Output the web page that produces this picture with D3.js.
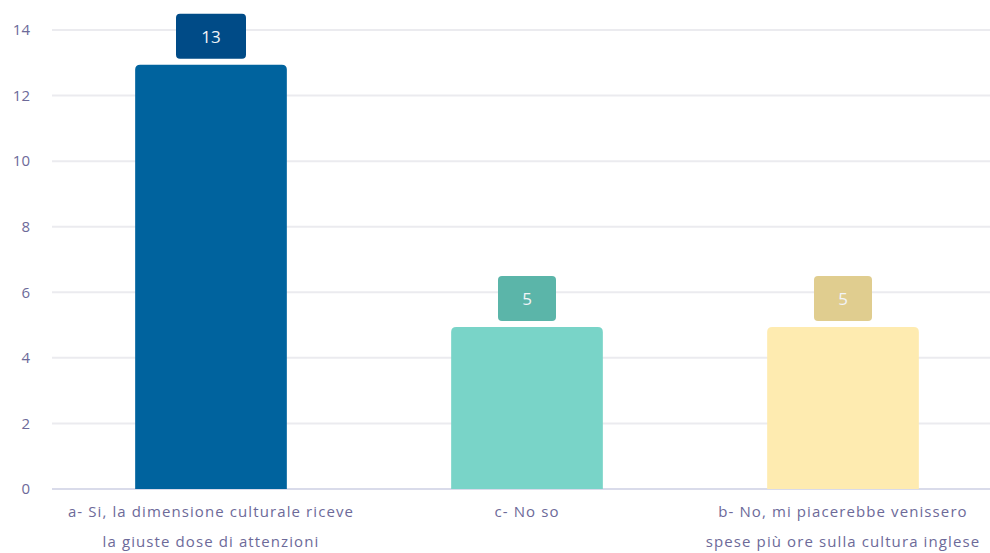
<!DOCTYPE html>
<html>
<head>
<meta charset="utf-8">
<script src="https://cdn.jsdelivr.net/npm/d3@7"></script>
<style>
  body { margin: 0; background: #fff; }
  text { font-family: "Open Sans", Lato, sans-serif; }
</style>
</head>
<body>
<div id="chart"></div>
<script>
const categories = [
  "a- Si, la dimensione culturale riceve\nla giuste dose di attenzioni",
  "c- No so",
  "b- No, mi piacerebbe venissero\nspese più ore sulla cultura inglese"
];
const values = [13, 5, 5];
const barColors = ["#00639e", "#79d4c8", "#feebb0"];
const badgeColors = ["#004b87", "#5bb5a9", "#e0cd8f"];
const yTicks = [0, 2, 4, 6, 8, 10, 12, 14];

const width = 990, height = 553;
const margin = { top: 30, right: -11, bottom: 64, left: 53 };

const svg = d3.select("#chart").append("svg")
  .attr("width", width)
  .attr("height", height);

const x = d3.scaleBand()
  .domain(categories)
  .range([margin.left, width - margin.right])
  .paddingInner(0.52)
  .paddingOuter(0.26);

const y = d3.scaleLinear()
  .domain([0, 14])
  .range([height - margin.bottom, margin.top]);

// gridlines
svg.append("g")
  .selectAll("line")
  .data(yTicks)
  .enter()
  .append("line")
  .attr("x1", margin.left - 1)
  .attr("x2", width)
  .attr("y1", d => y(d))
  .attr("y2", d => y(d))
  .attr("stroke", d => d === 0 ? "#d9dbea" : "#ebebef")
  .attr("stroke-width", 2);

// y tick labels
svg.append("g")
  .selectAll("text")
  .data(yTicks)
  .enter()
  .append("text")
  .attr("x", 30)
  .attr("y", d => y(d))
  .attr("dy", "0.35em")
  .attr("text-anchor", "end")
  .attr("fill", "#6d6a99")
  .style("font-size", "15px")
  .text(d => d);

// bars with rounded top corners
const r = 5;
svg.append("g")
  .selectAll("path")
  .data(values)
  .enter()
  .append("path")
  .attr("fill", (d, i) => barColors[i])
  .attr("d", (d, i) => {
    const x0 = x(categories[i]), w = x.bandwidth();
    const y0 = y(d) + 2, y1 = y(0);
    return `M${x0},${y1}V${y0 + r}Q${x0},${y0} ${x0 + r},${y0}H${x0 + w - r}Q${x0 + w},${y0} ${x0 + w},${y0 + r}V${y1}Z`;
  });

// value badges
const badge = svg.append("g")
  .selectAll("g")
  .data(values)
  .enter()
  .append("g")
  .attr("transform", (d, i) => `translate(${x(categories[i]) + x.bandwidth() / 2}, ${y(d) - 4})`);

badge.append("rect")
  .attr("x", d => -(String(d).length > 1 ? 35 : 29))
  .attr("y", -45)
  .attr("width", d => String(d).length > 1 ? 70 : 58)
  .attr("height", 45)
  .attr("rx", 4)
  .attr("fill", (d, i) => badgeColors[i]);

badge.append("text")
  .attr("y", -22)
  .attr("dy", "0.35em")
  .attr("text-anchor", "middle")
  .attr("fill", "#f2f4f8")
  .style("font-size", "17px")
  .text(d => d);

// category labels
const labels = svg.append("g")
  .selectAll("text")
  .data(categories)
  .enter()
  .append("text")
  .attr("text-anchor", "middle")
  .attr("fill", "#6d6a99")
  .style("font-size", "15px")
  .style("letter-spacing", "1.1px")
  .attr("transform", d => `translate(${x(d) + x.bandwidth() / 2}, ${y(0) + 23})`);

labels.selectAll("tspan")
  .data(d => d.split("\n"))
  .enter()
  .append("tspan")
  .attr("x", 0)
  .attr("dy", (d, i) => i === 0 ? "0.35em" : "30px")
  .text(d => d);
</script>
</body>
</html>
